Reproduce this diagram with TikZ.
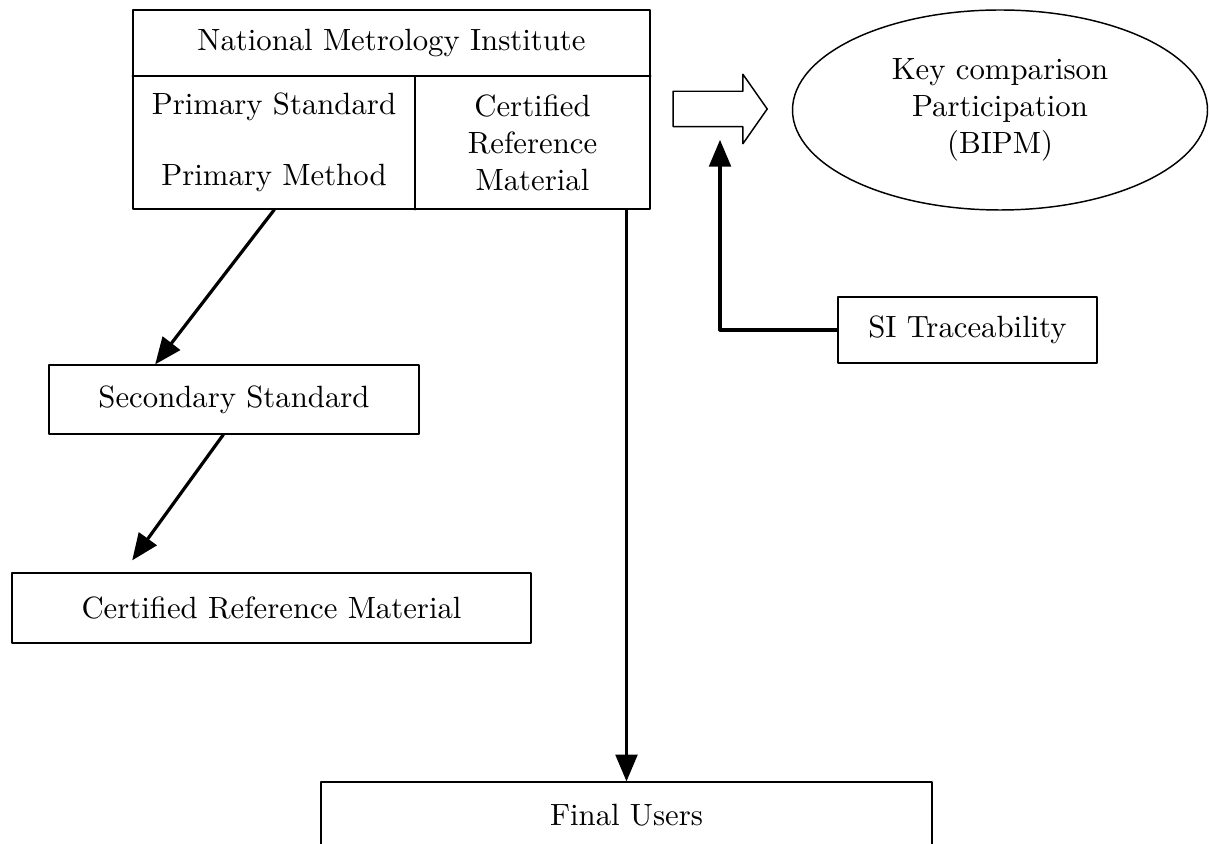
\documentclass[tikz,border=0pt]{standalone}
\usepackage{tikz}
\usetikzlibrary{calc}
\usetikzlibrary{arrows}
\usetikzlibrary{shapes.geometric,shapes.arrows}
\tikzstyle{every node}=[font=\fontsize{10.5}{12.6}\selectfont]

\begin{document}
\begin{tikzpicture}[line cap=round,line join=round,>=triangle 45,x=1.0cm,y=1.0cm,
    box/.style={draw,line width=0.5pt,rectangle,inner sep=0pt},
    flow/.style={->,line width=1.1pt}]
            \clip(0.,0.) rectangle (14.52,-10.128);
            % national metrology institute
            \node[box,minimum width=6.204cm,minimum height=2.388cm] (nmi) at (4.698,-1.314) {};
            \draw [line width=0.5pt] (nmi.west |- 0,-0.912) -- (nmi.east |- 0,-0.912);
            \draw [line width=0.5pt] (4.98,-0.912) -- (4.98,-0.912 |- nmi.south);
            \node (nmititle) at (4.698,-0.516) {National Metrology Institute};
            \node (primstd) at (3.288,-1.284) {Primary Standard};
            \node (primmeth) at (3.288,-2.136) {Primary Method};
            \node[align=center] (crmcell) at (6.39,-1.716) {Certified\\Reference\\Material};
            % key comparison
            \node[single arrow,draw,line width=0.5pt,inner xsep=0pt,inner ysep=0.204cm,minimum height=1.128cm,
                single arrow head extend=0.204cm,single arrow tip angle=110] (kc) at (8.568,-1.308) {};
            \node[ellipse,draw,line width=0.5pt,inner sep=0pt,minimum width=4.98cm,minimum height=2.4cm,align=center]
                (bipm) at (12.,-1.32) {Key comparison\\Participation\\(BIPM)};
            \node[box,minimum width=3.108cm,minimum height=0.792cm] (si) at (11.61,-3.96) {SI Traceability};
            \coordinate (kctip) at (8.64,-1.68);
            % lower boxes
            \node[box,minimum width=4.44cm,minimum height=0.828cm] (sec) at (2.808,-4.794) {Secondary Standard};
            \node[box,minimum width=6.228cm,minimum height=0.84cm] (crm) at (3.258,-7.296) {Certified Reference Material};
            \node[box,minimum width=7.332cm,minimum height=0.792cm] (fin) at (7.518,-9.78) {Final Users};
            % arrows
            \draw [flow] ([xshift=1.704cm]nmi.south west) -- ([xshift=1.284cm]sec.north west);
            \draw [flow] ([xshift=2.1cm]sec.south west) -- ([xshift=1.452cm,yshift=0.144cm]crm.north west);
            \draw [flow] (nmi.south -| fin.north) -- (fin.north);
            \draw [flow] (si.west) -| (kctip);
\end{tikzpicture}
\end{document}
